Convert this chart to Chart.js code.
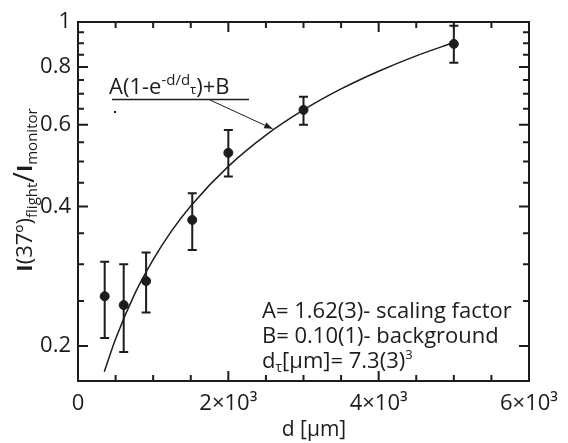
<!DOCTYPE html>
<html>
<head>
<meta charset="utf-8">
<script src="https://cdn.jsdelivr.net/npm/chart.js@4.4.0/dist/chart.umd.min.js"></script>
<style>body{margin:0;background:#fff}</style>
</head>
<body>
<canvas id="chart" width="568" height="443"></canvas>
<script>
// measured points: depth d [um] vs I(37)/I_monitor with error bar ends
const depth = [355, 608, 906, 1520, 2000, 3000, 5000];
const ratio = [0.256, 0.245, 0.276, 0.374, 0.522, 0.646, 0.897];
const ratioLow = [0.208, 0.194, 0.236, 0.322, 0.464, 0.600, 0.817];
const ratioHigh = [0.304, 0.300, 0.318, 0.427, 0.585, 0.690, 0.982];

// fitted curve
const fitDepth = [350, 500, 750, 1000, 1250, 1500, 2000, 2500, 3000, 3500, 4000, 4500, 5000];
const fitRatio = [0.176, 0.207, 0.258, 0.307, 0.355, 0.401, 0.488, 0.570, 0.646, 0.717, 0.783, 0.845, 0.903];

const xTicks = [0, 2000, 4000, 6000];
const xTickLabels = ['0', '2×10³', '4×10³', '6×10³'];
const yTicks = [0.2, 0.4, 0.6, 0.8, 1];
const yTickLabels = ['0.2', '0.4', '0.6', '0.8', '1'];

const fitText = ['A= 1.62(3)- scaling factor', 'B= 0.10(1)- background'];

const FONT = '"Open Sans", "Noto Sans", sans-serif';
const INK = '#1c1c1c';

function font(size, weight) {
    return (weight || 'normal') + ' ' + size + 'px ' + FONT;
}

// draws runs of [text, size, dy, weight] one after the other
function drawRuns(c, runs, x, y) {
    runs.forEach(r => {
        c.font = font(r[1], r[3]);
        c.fillText(r[0], x, y + r[2]);
        x += c.measureText(r[0]).width;
    });
    return x;
}

function runsWidth(c, runs) {
    let w = 0;
    runs.forEach(r => { c.font = font(r[1], r[3]); w += c.measureText(r[0]).width; });
    return w;
}

const errorBars = {
    id: 'errorBars',
    beforeDatasetsDraw(chart) {
        const c = chart.ctx, xs = chart.scales.x, ys = chart.scales.y;
        c.save();
        c.strokeStyle = INK;
        c.lineWidth = 2;
        depth.forEach((d, i) => {
            const px = xs.getPixelForValue(d);
            const lo = ys.getPixelForValue(ratioLow[i]);
            const hi = ys.getPixelForValue(ratioHigh[i]);
            c.beginPath();
            c.moveTo(px, lo); c.lineTo(px, hi);
            c.moveTo(px - 4.5, lo); c.lineTo(px + 4.5, lo);
            c.moveTo(px - 4.5, hi); c.lineTo(px + 4.5, hi);
            c.stroke();
        });
        c.restore();
    }
};

const frame = {
    id: 'frame',
    afterDraw(chart) {
        const c = chart.ctx, a = chart.chartArea;
        const xs = chart.scales.x, ys = chart.scales.y;
        c.save();
        c.strokeStyle = INK;
        c.fillStyle = INK;
        c.lineWidth = 2;
        c.strokeRect(a.left, a.top, a.right - a.left, a.bottom - a.top);

        // inward ticks
        c.beginPath();
        for (let v = 0; v <= 6000; v += 500) {
            const px = xs.getPixelForValue(v);
            const len = xTicks.includes(v) ? 10 : 6;
            c.moveTo(px, a.bottom); c.lineTo(px, a.bottom - len);
            c.moveTo(px, a.top); c.lineTo(px, a.top + len);
        }
        for (let k = 4; k <= 20; k++) {
            const v = k * 0.05;
            const py = ys.getPixelForValue(v);
            const len = (k % 4 === 0) ? 10 : 6;
            c.moveTo(a.left, py); c.lineTo(a.left + len, py);
            c.moveTo(a.right, py); c.lineTo(a.right - len, py);
        }
        c.stroke();

        // y axis title with subscripts
        const title = [
            ['I', 22, 0, 'bold'], ['(37º)', 22, 0], ['flight', 15, 5],
            ['/', 29, 2], ['I', 22, 0, 'bold'], ['monitor', 15, 5]
        ];
        c.save();
        c.translate(32, 190);
        c.rotate(-Math.PI / 2);
        c.textBaseline = 'alphabetic';
        drawRuns(c, title, -runsWidth(c, title) / 2, 0);
        c.restore();

        // x axis title
        c.textBaseline = 'alphabetic';
        c.textAlign = 'center';
        c.font = font(21);
        c.fillText('d [μm]', 314, 436);
        c.textAlign = 'left';

        // formula annotation with arrow to the curve
        const formula = [
            ['A(1-e', 22, 0], ['-d/d', 15, -9], ['τ', 13, 0], [')+B', 22, 0]
        ];
        drawRuns(c, formula, 109, 94);
        c.lineWidth = 1.5;
        c.beginPath();
        c.moveTo(112, 99.5); c.lineTo(249, 99.5);
        c.stroke();
        const tipX = xs.getPixelForValue(2590), tipY = ys.getPixelForValue(0.588);
        const sx = 210, sy = 100;
        const ang = Math.atan2(tipY - sy, tipX - sx);
        c.lineWidth = 1;
        c.beginPath();
        c.moveTo(sx, sy); c.lineTo(tipX, tipY);
        c.stroke();
        c.beginPath();
        c.moveTo(tipX, tipY);
        c.lineTo(tipX - 9 * Math.cos(ang - 0.35), tipY - 9 * Math.sin(ang - 0.35));
        c.lineTo(tipX - 9 * Math.cos(ang + 0.35), tipY - 9 * Math.sin(ang + 0.35));
        c.closePath();
        c.fill();
        c.fillRect(114, 111, 2, 2);

        // fit parameters
        c.font = font(22);
        c.fillText(fitText[0], 262, 318);
        c.fillText(fitText[1], 262, 343);
        drawRuns(c, [['d', 22, 0], ['τ', 14, 4], ['[μm]= 7.3(3)', 22, 0], ['3', 13, -9]], 262, 368);
        c.restore();
    }
};

new Chart(document.getElementById('chart'), {
    type: 'scatter',
    data: {
        datasets: [{
            type: 'line',
            data: fitDepth.map((d, i) => ({ x: d, y: fitRatio[i] })),
            borderColor: INK,
            borderWidth: 1.5,
            pointRadius: 0,
            cubicInterpolationMode: 'monotone',
            fill: false
        }, {
            data: depth.map((d, i) => ({ x: d, y: ratio[i] })),
            backgroundColor: INK,
            borderColor: INK,
            pointRadius: 4.5
        }]
    },
    options: {
        responsive: false,
        animation: false,
        layout: { padding: { top: 22, right: 39, left: 0, bottom: 0 } },
        plugins: { legend: { display: false }, tooltip: { enabled: false } },
        scales: {
            x: {
                type: 'linear',
                min: 0,
                max: 6000,
                afterBuildTicks: s => { s.ticks = xTicks.map(v => ({ value: v })); },
                afterFit: s => { s.height = 62; },
                grid: { display: false, drawTicks: false },
                border: { display: false },
                ticks: {
                    padding: 10,
                    maxRotation: 0,
                    autoSkip: false,
                    color: INK,
                    font: { family: FONT, size: 22 },
                    callback: (v, i) => xTickLabels[i]
                }
            },
            y: {
                type: 'logarithmic',
                min: 0.168,
                max: 1,
                afterBuildTicks: s => { s.ticks = yTicks.map(v => ({ value: v })); },
                afterFit: s => { s.width = 78; },
                grid: { display: false, drawTicks: false },
                border: { display: false },
                ticks: {
                    padding: 7,
                    autoSkip: false,
                    color: INK,
                    font: { family: FONT, size: 22 },
                    callback: (v, i) => yTickLabels[i]
                }
            }
        }
    },
    plugins: [errorBars, frame]
});
</script>
</body>
</html>
